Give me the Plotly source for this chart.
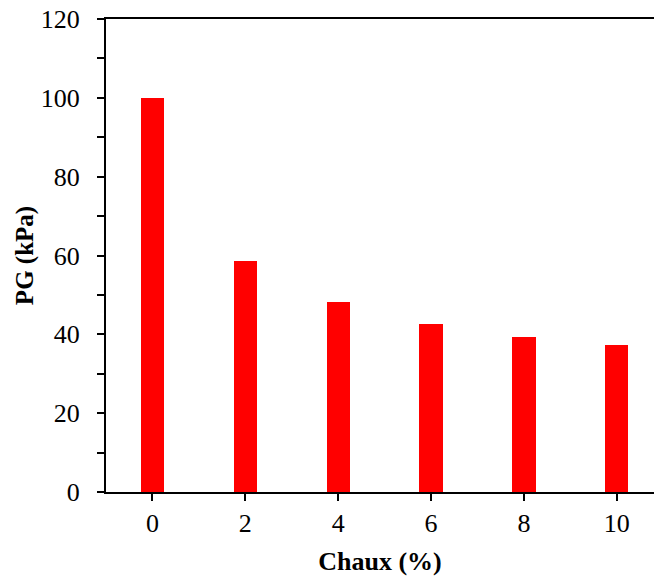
import plotly.graph_objects as go

# Lime content (%) and measured PG values (kPa)
chaux = ["0", "2", "4", "6", "8", "10"]
pg_kpa = [100.0, 58.5, 48.1, 42.5, 39.2, 37.2]

positions = list(range(len(chaux)))

fig = go.Figure()
fig.add_trace(go.Bar(
    x=positions,
    y=pg_kpa,
    width=0.25,
    marker=dict(color="#FF0000", line=dict(width=0)),
    showlegend=False,
))

font_family = "Liberation Serif"

fig.update_layout(
    width=654,
    height=578,
    margin=dict(l=106, r=0, t=18.5, b=86),
    plot_bgcolor="white",
    paper_bgcolor="white",
    font=dict(family=font_family, size=26, color="black"),
    bargap=0,
)

fig.update_xaxes(
    range=[-0.5, 5.4],
    tickmode="array",
    tickvals=positions,
    ticktext=chaux,
    ticks="outside",
    ticklen=7,
    tickwidth=2,
    tickcolor="black",
    showline=True,
    linewidth=2,
    linecolor="black",
    mirror=True,
    showgrid=False,
    zeroline=False,
    ticklabelstandoff=0,
    automargin=False,
    title=dict(text="<b>Chaux (%)</b>", font=dict(size=26), standoff=15),
)

fig.update_yaxes(
    range=[0, 120],
    tickmode="linear",
    tick0=0,
    dtick=20,
    ticks="outside",
    ticklen=7,
    tickwidth=2,
    tickcolor="black",
    minor=dict(ticks="outside", dtick=10, ticklen=7, tickwidth=2, tickcolor="black", showgrid=False),
    showline=True,
    linewidth=2,
    linecolor="black",
    showgrid=False,
    zeroline=False,
    ticklabelstandoff=12,
    automargin=False,
    title=dict(text="<b>PG (kPa)</b>", font=dict(size=25), standoff=0),
)

fig.write_html("out.html")
